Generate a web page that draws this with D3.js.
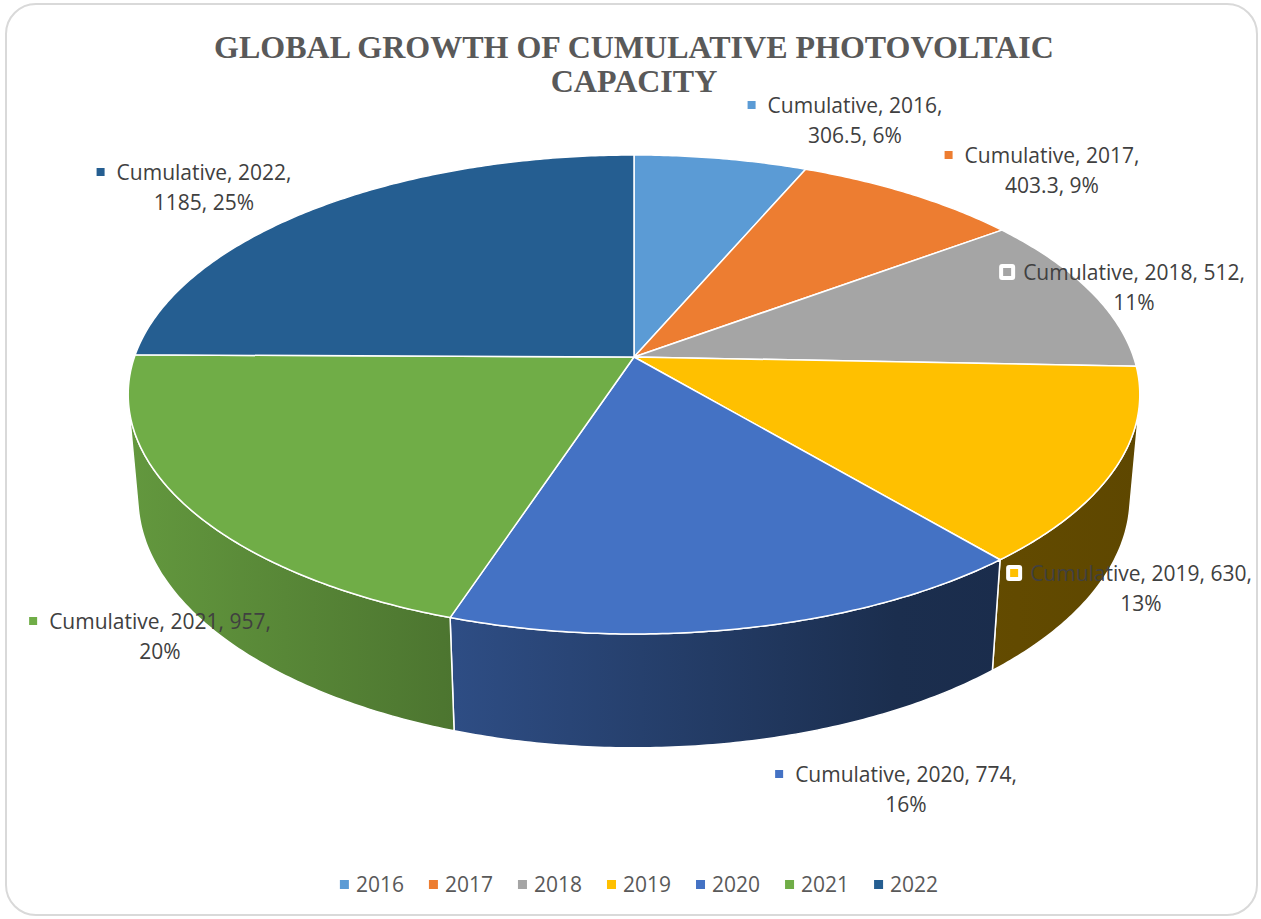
<!DOCTYPE html>
<html>
<head>
<meta charset="utf-8">
<script src="https://cdn.jsdelivr.net/npm/d3@7"></script>
<style>
    body { margin: 0; background: #fff; }
    .chart-title { font-family: 'Liberation Serif', 'Times New Roman', serif; font-weight: bold; font-size: 32px; fill: #595959; text-anchor: middle; }
    .data-label { font-family: 'Open Sans', sans-serif; font-size: 21px; fill: #404040; }
    .legend-text { font-family: 'Open Sans', sans-serif; font-size: 21px; fill: #595959; }
</style>
</head>
<body>
<svg id="chart" width="1261" height="919"></svg>
<script>
// data
const seriesName = 'Cumulative';
const years = ['2016', '2017', '2018', '2019', '2020', '2021', '2022'];
const capacity = [306.5, 403.3, 512, 630, 774, 957, 1185];
const sliceColors = ['#5B9BD5', '#ED7D31', '#A5A5A5', '#FFC000', '#4472C4', '#70AD47', '#255E91'];

// label placement: centre x of text, first baseline, number of comma parts on line 1
const labelLayout = [
    { cx: 855, y: 113, split: 2 },
    { cx: 1052, y: 163, split: 2 },
    { cx: 1134, y: 280, split: 3 },
    { cx: 1141, y: 581, split: 3 },
    { cx: 906, y: 782, split: 3 },
    { cx: 160, y: 629, split: 3 },
    { cx: 204, y: 180, split: 2 }
];

class Pie3D {
    constructor(_config) {
        this.config = {
            parentElement: _config.parentElement,
            cx: 634, cy: 357,
            fx: 2830, fy: 2861,
            dist: 5.665, tilt: Math.asin(0.4626), thick: 0.231
        };
        this.initVis();
    }

    initVis() {
        let vis = this;
        vis.svg = d3.select(vis.config.parentElement);

        // outer frame
        vis.svg.append('rect')
            .attr('x', 6).attr('y', 4)
            .attr('width', 1251).attr('height', 911)
            .attr('rx', 30)
            .attr('fill', '#fff')
            .attr('stroke', '#d9d9d9')
            .attr('stroke-width', 2);

        vis.svg.append('text')
            .attr('class', 'chart-title')
            .attr('x', 634).attr('y', 58)
            .text('GLOBAL GROWTH OF CUMULATIVE PHOTOVOLTAIC');
        vis.svg.append('text')
            .attr('class', 'chart-title')
            .attr('x', 634).attr('y', 92)
            .text('CAPACITY');

        vis.defs = vis.svg.append('defs');
        vis.pieG = vis.svg.append('g');
        vis.labelG = vis.svg.append('g');
        vis.legendG = vis.svg.append('g');

        vis.updateVis();
    }

    // perspective projection of a world point (x right, y away from viewer, z up)
    toScreen(x, y, z) {
        let c = this.config;
        let ca = Math.cos(c.tilt), sa = Math.sin(c.tilt);
        let depth = c.dist + y * ca - z * sa;
        let v = y * sa + z * ca;
        return [c.cx + c.fx * x / depth, c.cy - c.fy * v / depth];
    }

    // point on the unit rim, angle measured clockwise from the back
    project(theta, z) {
        return this.toScreen(Math.sin(theta), Math.cos(theta), z);
    }

    rim(a0, a1, z) {
        let vis = this;
        let n = Math.max(2, Math.ceil((a1 - a0) / 0.01));
        return d3.range(n + 1).map(i => vis.project(a0 + (a1 - a0) * i / n, z));
    }

    updateVis() {
        let vis = this;
        vis.total = d3.sum(capacity);
        vis.arcs = d3.pie().sort(null)(capacity);

        // percentages rounded so they add up to 100 (largest remainder)
        let raw = capacity.map(v => v / vis.total * 100);
        let pct = raw.map(Math.floor);
        let left = 100 - d3.sum(pct);
        d3.range(raw.length)
            .sort((a, b) => (raw[b] - pct[b]) - (raw[a] - pct[a]))
            .slice(0, left)
            .forEach(i => pct[i] += 1);
        vis.pct = pct;

        vis.renderVis();
    }

    renderVis() {
        let vis = this;
        let line = d3.line();
        let cfg = vis.config;
        let thick = cfg.thick;
        let apex = vis.toScreen(0, 0, 0);

        // range of rim angles whose outer wall faces the camera
        let edge = Math.acos(-1 / (cfg.dist * Math.cos(cfg.tilt)));
        let wallFrom = edge, wallTo = 2 * Math.PI - edge;

        // side shading gradients
        sliceColors.forEach((col, i) => {
            let g = vis.defs.append('linearGradient')
                .attr('id', 'side' + i)
                .attr('gradientUnits', 'userSpaceOnUse')
                .attr('x1', 128).attr('x2', 1139).attr('y1', 0).attr('y2', 0);
            [[0, 0.88], [0.76, 0.4], [1, 0.37]].forEach(([o, k]) => {
                let c = d3.rgb(col);
                g.append('stop')
                    .attr('offset', o)
                    .attr('stop-color', d3.rgb(c.r * k, c.g * k, c.b * k));
            });
        });

        // outer walls (visible part only)
        vis.arcs.forEach((d, i) => {
            let a0 = Math.max(d.startAngle, wallFrom);
            let a1 = Math.min(d.endAngle, wallTo);
            if (a1 <= a0) return;
            let pts = vis.rim(a0, a1, 0).concat(vis.rim(a0, a1, -thick).reverse());
            vis.pieG.append('path')
                .attr('d', line(pts) + 'Z')
                .attr('fill', `url(#side${i})`)
                .attr('stroke', '#fff')
                .attr('stroke-width', 1.5)
                .attr('stroke-linejoin', 'round');
        });

        // top faces
        vis.pieG.selectAll('.slice')
            .data(vis.arcs)
            .join('path')
            .attr('class', 'slice')
            .attr('d', d => line([apex].concat(vis.rim(d.startAngle, d.endAngle, 0))) + 'Z')
            .attr('fill', (d, i) => sliceColors[i])
            .attr('stroke', '#fff')
            .attr('stroke-width', 1.5)
            .attr('stroke-linejoin', 'round');

        // data labels
        vis.arcs.forEach((d, i) => {
            let parts = [seriesName, years[i], capacity[i], vis.pct[i] + '%'];
            let lay = labelLayout[i];
            let l1 = parts.slice(0, lay.split).join(', ') + ',';
            let l2 = parts.slice(lay.split).join(', ');
            let t1 = vis.labelG.append('text')
                .attr('class', 'data-label')
                .attr('x', lay.cx).attr('y', lay.y)
                .attr('text-anchor', 'middle')
                .text(l1);
            vis.labelG.append('text')
                .attr('class', 'data-label')
                .attr('x', lay.cx).attr('y', lay.y + 30)
                .attr('text-anchor', 'middle')
                .text(l2);
            let w = t1.node().getComputedTextLength();
            let mx = lay.cx - w / 2 - 20;
            vis.labelG.insert('rect', 'text')
                .attr('x', mx - 4).attr('y', lay.y - 16)
                .attr('width', 16).attr('height', 16)
                .attr('rx', 3)
                .attr('fill', '#fff');
            vis.labelG.append('rect')
                .attr('x', mx).attr('y', lay.y - 12)
                .attr('width', 8).attr('height', 8)
                .attr('fill', sliceColors[i]);
        });

        // legend
        let items = vis.legendG.selectAll('.legend-item')
            .data(years)
            .join('g')
            .attr('class', 'legend-item');
        items.append('rect')
            .attr('width', 9).attr('height', 9)
            .attr('y', -12)
            .attr('fill', (d, i) => sliceColors[i]);
        items.append('text')
            .attr('class', 'legend-text')
            .attr('x', 16).attr('y', 0)
            .text(d => d);
        let x = 0;
        let offsets = [];
        items.each(function() {
            offsets.push(x);
            x += this.getBBox().width + 25;
        });
        let totalW = x - 25;
        let startX = 639 - totalW / 2;
        items.attr('transform', (d, i) => `translate(${startX + offsets[i]},892)`);
    }
}

let chart = new Pie3D({ parentElement: '#chart' });
</script>
</body>
</html>
